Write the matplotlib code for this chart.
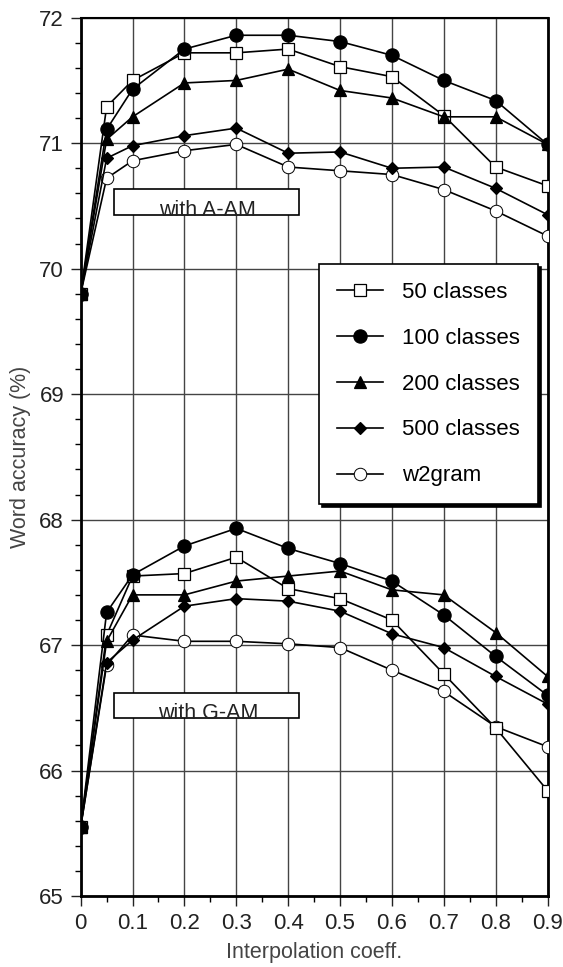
import numpy as np
import matplotlib
matplotlib.use("Agg")
import matplotlib.pyplot as plt
from matplotlib.patches import Rectangle

plt.rcParams['font.family'] = ['Liberation Sans', 'DejaVu Sans']

# interpolation coefficients
coeff = [0, 0.05, 0.1, 0.2, 0.3, 0.4, 0.5, 0.6, 0.7, 0.8, 0.9]
labels = ['50 classes', '100 classes', '200 classes', '500 classes', 'w2gram']

# with A-AM
a_50 = [69.80, 71.29, 71.50, 71.72, 71.72, 71.75, 71.61, 71.53, 71.22, 70.81, 70.66]
a_100 = [69.80, 71.11, 71.43, 71.75, 71.86, 71.86, 71.81, 71.70, 71.50, 71.34, 70.99]
a_200 = [69.80, 71.03, 71.21, 71.48, 71.50, 71.59, 71.42, 71.36, 71.21, 71.21, 70.99]
a_500 = [69.80, 70.88, 70.98, 71.06, 71.12, 70.92, 70.93, 70.80, 70.81, 70.64, 70.43]
a_w2g = [69.80, 70.72, 70.86, 70.94, 70.99, 70.81, 70.78, 70.75, 70.63, 70.46, 70.26]

# with G-AM
g_50 = [65.55, 67.08, 67.55, 67.57, 67.70, 67.45, 67.37, 67.20, 66.77, 66.34, 65.84]
g_100 = [65.55, 67.26, 67.56, 67.79, 67.93, 67.77, 67.65, 67.51, 67.24, 66.91, 66.60]
g_200 = [65.55, 67.03, 67.40, 67.40, 67.51, 67.55, 67.59, 67.44, 67.40, 67.10, 66.75]
g_500 = [65.55, 66.86, 67.04, 67.31, 67.37, 67.35, 67.27, 67.09, 66.98, 66.75, 66.53]
g_w2g = [65.55, 66.84, 67.08, 67.03, 67.03, 67.01, 66.98, 66.80, 66.63, 66.35, 66.19]

# open markers underneath, filled ones on top
styles = [
    dict(marker='s', mfc='white', ms=8.5, mew=0.9, zorder=3.2),
    dict(marker='o', mfc='black', ms=9.5, mew=0.9, zorder=3.5),
    dict(marker='^', mfc='black', ms=8.5, mew=0.9, zorder=3.4),
    dict(marker='D', mfc='black', ms=6.5, mew=0.9, zorder=3.3),
    dict(marker='o', mfc='white', ms=9, mew=0.7, zorder=3.1),
]

fig = plt.figure(figsize=(5.63, 9.67), dpi=100)
ax = fig.add_axes([0.1433, 0.0734, 0.8292, 0.9083])

for ys, st, lab in zip([a_50, a_100, a_200, a_500, a_w2g], styles, labels):
    ax.plot(coeff, ys, color='black', lw=1.2, mec='black', label=lab, **st)
for ys, st in zip([g_50, g_100, g_200, g_500, g_w2g], styles):
    ax.plot(coeff, ys, color='black', lw=1.2, mec='black', **st)

ax.set_xlim(0, 0.9)
ax.set_ylim(65, 72)
ax.set_xticks(np.arange(0, 0.91, 0.1))
ax.set_xticklabels(['0'] + ['%.1f' % v for v in np.arange(0.1, 0.91, 0.1)])
ax.set_xticks(np.arange(0.05, 0.9, 0.1), minor=True)
ax.set_yticks(range(65, 73))
ax.set_yticks(np.arange(65, 72.01, 0.2), minor=True)
ax.tick_params(which='major', direction='out', length=7, width=1, labelsize=16,
               colors='#222222', pad=5)
ax.tick_params(which='minor', direction='out', length=4, width=1)
ax.grid(True, which='major', color='#444444', lw=1.0)
ax.set_axisbelow(True)
for side in ['left', 'bottom', 'right']:
    ax.spines[side].set_linewidth(2)
ax.spines['top'].set_linewidth(1.5)

ax.set_ylabel('Word accuracy (%)', fontsize=15.5, color='#444444', labelpad=6)
ax.set_xlabel('Interpolation coeff.', fontsize=15.5, color='#444444', labelpad=6)

# annotation boxes
for y0, txt in [(70.428, 'with A-AM'), (66.417, 'with G-AM')]:
    ax.add_patch(Rectangle((0.0642, y0), 0.3572, 0.205, facecolor='white',
                           edgecolor='black', lw=1.2, zorder=4))
    ax.text(0.245, y0 - 0.005, txt, ha='center', va='baseline', fontsize=15.5,
            color='#222222', zorder=5)

leg = ax.legend(loc='upper left', bbox_to_anchor=(0.5105, 0.7196), fontsize=16,
                frameon=True, fancybox=False, edgecolor='black', framealpha=1,
                shadow={'color': 'black', 'alpha': 1}, borderpad=0.8,
                labelspacing=1.12, handlelength=2.1, handletextpad=0.85,
                borderaxespad=0)
leg.get_frame().set_linewidth(1.2)
leg.set_zorder(6)

fig.savefig('out.png', dpi=100)
